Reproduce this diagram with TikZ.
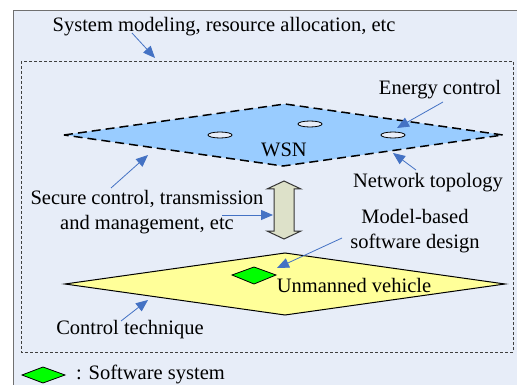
\documentclass[tikz,border=0pt]{standalone}
\usepackage{fontspec}
\setmainfont{Liberation Serif}
\usetikzlibrary{arrows.meta,shapes.geometric}
\definecolor{bgblue}{HTML}{E7EDF8}
\definecolor{wsnblue}{HTML}{99CCFF}
\definecolor{vehyellow}{HTML}{FFFF99}
\definecolor{swgreen}{HTML}{00FF00}
\definecolor{arrowblue}{HTML}{4472C4}
\definecolor{dblfill}{HTML}{DDE1C9}
\definecolor{framegray}{HTML}{707070}
\tikzset{
  lbl/.style={font=\fontsize{20.5}{24.5}\selectfont, inner sep=0pt},
  callout/.style={draw=arrowblue, line width=0.8pt, -{Triangle[length=12pt,width=10pt]}},
  sensor/.style={ellipse, draw=black, fill=bgblue, line width=0.8pt, minimum width=24pt, minimum height=6pt, inner sep=0pt},
  swdiamond/.style={draw=black, fill=swgreen, line width=0.8pt},
}
\begin{document}
\begin{tikzpicture}[x=1pt,y=-1pt]
\useasboundingbox (0,0) rectangle (517,385);
\clip (0,0) rectangle (517,385);
% outer frame
\draw[draw=framegray, fill=bgblue, line width=1pt] (13,11) rectangle (540,410);
% inner dashed frame
\draw[draw=black!75, line width=0.8pt, dash pattern=on 3pt off 2pt] (21,61) rectangle (513,352);

% WSN plane
\coordinate (wl) at (64,135);
\coordinate (wt) at (285,104);
\coordinate (wr) at (503,135);
\coordinate (wb) at (283,166);
\draw[fill=wsnblue, line width=1.5pt, dash pattern=on 9pt off 5pt] (wl) -- (wt) -- (wr) -- (wb) -- cycle;
\node[sensor] (s1) at (310,124) {};
\node[sensor] (s2) at (220,135) {};
\node[sensor] (s3) at (393,135) {};
\node[lbl, anchor=base] (wsn) at (284,157) {WSN};

% vehicle plane
\coordinate (vl) at (65,284);
\coordinate (vt) at (285,253);
\coordinate (vr) at (505,284);
\coordinate (vb) at (285,315);
\draw[fill=vehyellow, line width=1pt] (vl) -- (vt) -- (vr) -- (vb) -- cycle;
\draw[swdiamond] (232,275) -- (254,267) -- (276,275) -- (254,284) -- cycle;
\node[lbl, anchor=base] (veh) at (354,292) {Unmanned vehicle};

% double arrow
\draw[fill=dblfill, draw=black!80, line width=1pt]
  (284,181) -- (301,189) -- (294,189) -- (294,231) -- (301,231) -- (284,239)
  -- (267,231) -- (274,231) -- (274,189) -- (267,189) -- cycle;
\coordinate (dbl) at (273,215);

% labels
\node[lbl, anchor=base] (sys) at (224,32) {System modeling, resource allocation, etc};
\node[lbl, anchor=base] (energy) at (440,95) {Energy control};
\node[lbl, anchor=base] (topo) at (428,188) {Network topology};
\node[lbl, align=center] (secure) at (147,212) {Secure control, transmission\\and management, etc};
\node[lbl, align=center] (model) at (415,231) {Model-based\\software design};
\node[lbl, anchor=base] (ctrl) at (130,334) {Control technique};

% callout arrows
\coordinate (sysA) at (132,33);
\coordinate (sysB) at (155,58);
\draw[callout] (sysA) -- (sysB);
\coordinate (enA) at (443,102);
\coordinate (enB) at (397,128);
\draw[callout] (enA) -- (enB);
\coordinate (toA) at (416,170);
\coordinate (toB) at (393,153);
\draw[callout] (toA) -- (toB);
\coordinate (seA) at (111,188);
\coordinate (seB) at (148,155);
\draw[callout] (seA) -- (seB);
\coordinate (seC) at (222,215);
\draw[callout] (seC) -- (dbl);
\coordinate (moA) at (342,238);
\coordinate (moB) at (277,268);
\draw[callout] (moA) -- (moB);
\coordinate (ctA) at (121,321);
\coordinate (ctB) at (148,300);
\draw[callout] (ctA) -- (ctB);

% legend
\draw[swdiamond] (22,375) -- (43,367) -- (65,375) -- (43,383) -- cycle;
\node[lbl, anchor=base west] (legend) at (76,379) {: Software system};
\end{tikzpicture}
\end{document}
